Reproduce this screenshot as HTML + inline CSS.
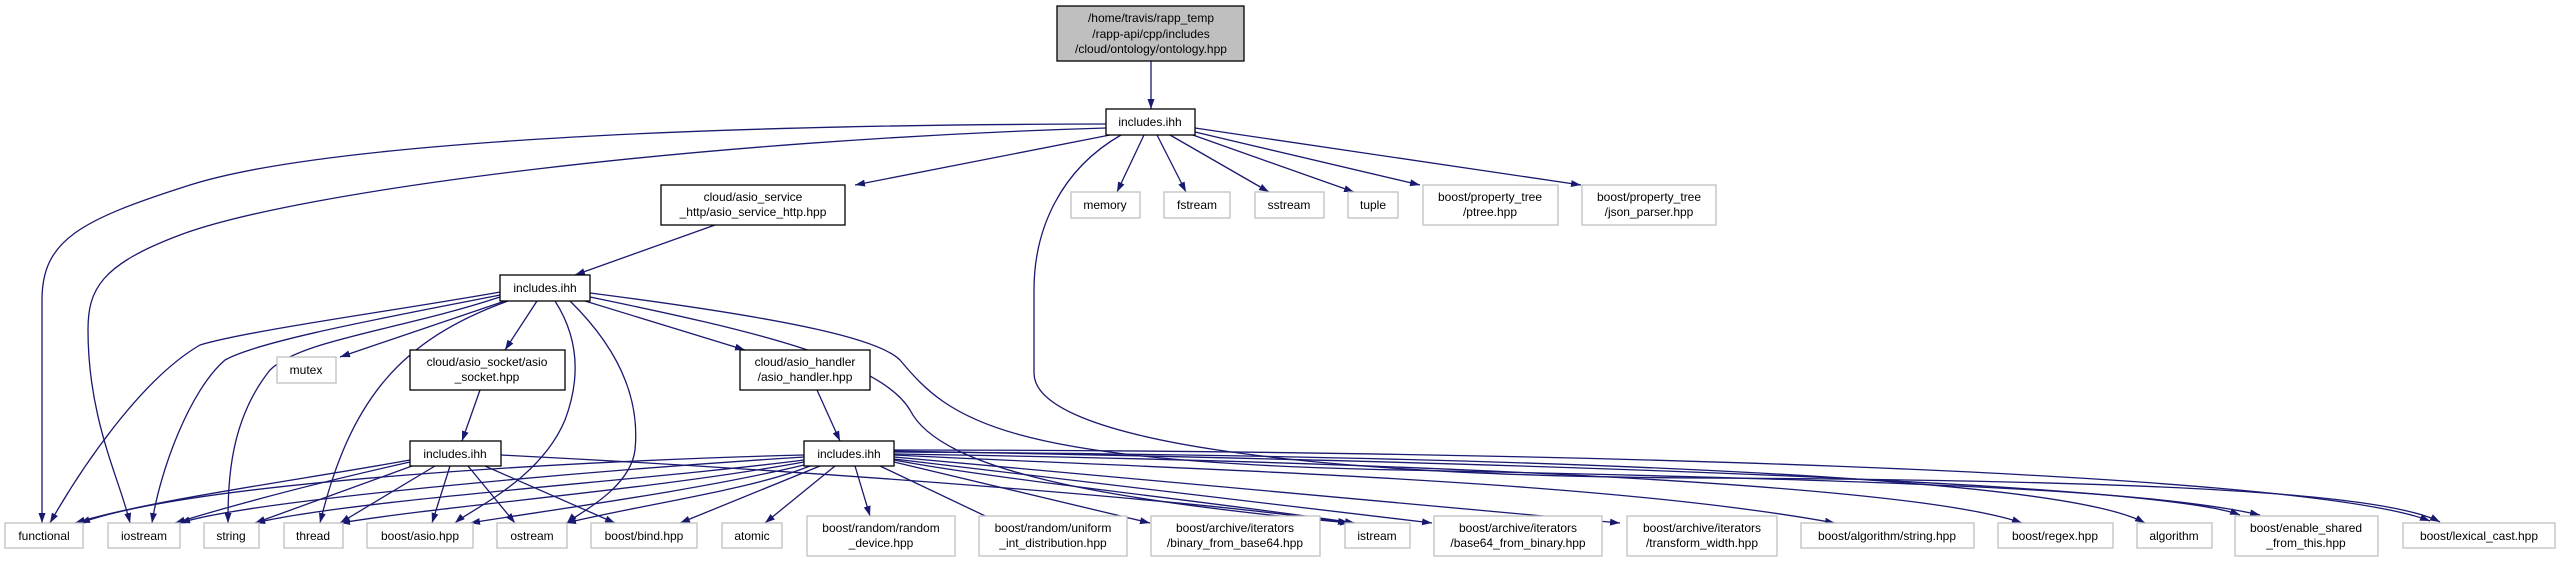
<!DOCTYPE html>
<html><head><meta charset="utf-8"><style>
html,body{margin:0;padding:0;background:#fff;}
svg{display:block;}
text{font-family:"Liberation Sans",sans-serif;font-size:12px;fill:#000;text-anchor:middle;}
.e{fill:none;stroke:#191970;stroke-width:1.3;marker-end:url(#a);}
.p{fill:#fff;stroke:#000;stroke-width:1.3;}
.x{fill:#fff;stroke:#bfbfbf;stroke-width:1.3;}
</style></head><body>
<svg width="2560" height="563" viewBox="0 0 2560 563" xmlns="http://www.w3.org/2000/svg">
<defs><marker id="a" markerUnits="userSpaceOnUse" markerWidth="11" markerHeight="8" refX="10" refY="3.5" orient="auto"><path d="M0,0 L10,3.5 L0,7 z" fill="#191970"/></marker></defs>

<!-- edges -->
<path class="e" d="M1151,61 L1151,109"/>
<path class="e" d="M1106,124 C600,125 300,150 190,185 C80,220 42,240 42,300 L42,523"/>
<path class="e" d="M1106,128 C700,140 300,190 180,235 C100,265 88,290 88,330 C88,420 120,480 130,523"/>
<path class="e" d="M1110,135 L855,185"/>
<path class="e" d="M1121,135 C1060,170 1034,230 1034,290 L1034,373 C1034,440 1300,476 1700,478 C2100,480 2380,490 2440,522"/>
<path class="e" d="M1144,135 L1117,192"/>
<path class="e" d="M1157,135 L1186,192"/>
<path class="e" d="M1170,135 L1269,192"/>
<path class="e" d="M1190,134 L1354,192"/>
<path class="e" d="M1195,132 L1420,185"/>
<path class="e" d="M1195,128 L1581,185"/>
<path class="e" d="M715,225 L575,275"/>

<path class="e" d="M500,292 C400,310 250,330 200,345 C140,380 80,470 50,523"/>
<path class="e" d="M500,295 C400,315 260,340 225,360 C190,390 160,470 152,523"/>
<path class="e" d="M500,297 C400,330 300,340 270,370 C230,420 228,480 228,523"/>
<path class="e" d="M505,301 L340,357"/>
<path class="e" d="M508,301 C400,340 350,400 320,523"/>
<path class="e" d="M537,301 L505,350"/>
<path class="e" d="M555,301 C580,340 580,380 565,420 C540,480 470,510 455,523"/>
<path class="e" d="M570,301 C620,350 640,400 635,450 C630,490 575,515 567,523"/>
<path class="e" d="M585,301 L745,350"/>
<path class="e" d="M590,293 C800,320 880,340 900,360 C950,420 1000,462 1400,470 C1900,480 2150,490 2260,515"/>
<path class="e" d="M590,297 C750,330 880,360 910,410 C940,470 1100,500 1350,523"/>
<path class="e" d="M480,390 L462,441"/>
<path class="e" d="M817,390 L840,441"/>

<path class="e" d="M410,460 C300,480 150,500 75,523"/>
<path class="e" d="M410,462 C330,480 250,500 175,523"/>
<path class="e" d="M412,466 L255,523"/>
<path class="e" d="M435,466 L340,523"/>
<path class="e" d="M450,466 L432,523"/>
<path class="e" d="M468,466 L515,523"/>
<path class="e" d="M485,466 L615,523"/>
<path class="e" d="M501,455 C800,470 1200,500 1348,523"/>

<path class="e" d="M804,455 C600,460 200,480 80,523"/>
<path class="e" d="M804,457 C600,470 250,500 180,523"/>
<path class="e" d="M804,460 C650,480 350,500 255,523"/>
<path class="e" d="M804,462 C650,490 450,505 340,523"/>
<path class="e" d="M804,465 C700,490 550,510 470,523"/>
<path class="e" d="M810,466 C750,490 640,505 566,523"/>
<path class="e" d="M820,466 L680,523"/>
<path class="e" d="M835,466 L765,523"/>
<path class="e" d="M855,466 L870,516"/>
<path class="e" d="M880,466 L1000,523"/>
<path class="e" d="M894,462 L1150,523"/>
<path class="e" d="M894,460 C1000,480 1200,500 1355,523"/>
<path class="e" d="M894,459 L1432,523"/>
<path class="e" d="M894,457 L1620,523"/>
<path class="e" d="M894,455 C1200,470 1600,480 1835,523"/>
<path class="e" d="M894,454 C1300,460 1900,480 2022,523"/>
<path class="e" d="M894,452 C1400,455 2050,470 2145,523"/>
<path class="e" d="M894,451 C1400,460 2150,480 2240,515"/>
<path class="e" d="M894,450 C1500,450 2300,470 2430,521"/>

<!-- nodes -->
<rect x="1057" y="6" width="187" height="55" fill="#bfbfbf" stroke="#000" stroke-width="1.3"/>
<text x="1151" y="22">/home/travis/rapp_temp</text>
<text x="1151" y="38">/rapp-api/cpp/includes</text>
<text x="1151" y="53">/cloud/ontology/ontology.hpp</text>

<rect class="p" x="1106" y="109" width="89" height="26"/><text x="1150" y="126">includes.ihh</text>
<rect class="p" x="661" y="185" width="184" height="40"/><text x="753" y="201">cloud/asio_service</text><text x="753" y="216">_http/asio_service_http.hpp</text>
<rect class="x" x="1071" y="192" width="69" height="26"/><text x="1105" y="209">memory</text>
<rect class="x" x="1164" y="192" width="66" height="26"/><text x="1197" y="209">fstream</text>
<rect class="x" x="1255" y="192" width="69" height="26"/><text x="1289" y="209">sstream</text>
<rect class="x" x="1348" y="192" width="50" height="26"/><text x="1373" y="209">tuple</text>
<rect class="x" x="1423" y="185" width="135" height="40"/><text x="1490" y="201">boost/property_tree</text><text x="1490" y="216">/ptree.hpp</text>
<rect class="x" x="1582" y="185" width="134" height="40"/><text x="1649" y="201">boost/property_tree</text><text x="1649" y="216">/json_parser.hpp</text>

<rect class="p" x="500" y="275" width="90" height="26"/><text x="545" y="292">includes.ihh</text>
<rect class="x" x="277" y="357" width="59" height="26"/><text x="306" y="374">mutex</text>
<rect class="p" x="410" y="350" width="155" height="40"/><text x="487" y="366">cloud/asio_socket/asio</text><text x="487" y="381">_socket.hpp</text>
<rect class="p" x="740" y="350" width="130" height="40"/><text x="805" y="366">cloud/asio_handler</text><text x="805" y="381">/asio_handler.hpp</text>
<rect class="p" x="410" y="441" width="91" height="25"/><text x="455" y="458">includes.ihh</text>
<rect class="p" x="804" y="441" width="90" height="25"/><text x="849" y="458">includes.ihh</text>

<rect class="x" x="5" y="523" width="78" height="25"/><text x="44" y="540">functional</text>
<rect class="x" x="108" y="523" width="72" height="25"/><text x="144" y="540">iostream</text>
<rect class="x" x="204" y="523" width="55" height="25"/><text x="231" y="540">string</text>
<rect class="x" x="284" y="523" width="59" height="25"/><text x="313" y="540">thread</text>
<rect class="x" x="367" y="523" width="106" height="25"/><text x="420" y="540">boost/asio.hpp</text>
<rect class="x" x="497" y="523" width="70" height="25"/><text x="532" y="540">ostream</text>
<rect class="x" x="591" y="523" width="106" height="25"/><text x="644" y="540">boost/bind.hpp</text>
<rect class="x" x="722" y="523" width="60" height="25"/><text x="752" y="540">atomic</text>
<rect class="x" x="807" y="516" width="148" height="40"/><text x="881" y="532">boost/random/random</text><text x="881" y="547">_device.hpp</text>
<rect class="x" x="979" y="516" width="148" height="40"/><text x="1053" y="532">boost/random/uniform</text><text x="1053" y="547">_int_distribution.hpp</text>
<rect class="x" x="1151" y="516" width="169" height="40"/><text x="1235" y="532">boost/archive/iterators</text><text x="1235" y="547">/binary_from_base64.hpp</text>
<rect class="x" x="1345" y="523" width="65" height="25"/><text x="1377" y="540">istream</text>
<rect class="x" x="1434" y="516" width="168" height="40"/><text x="1518" y="532">boost/archive/iterators</text><text x="1518" y="547">/base64_from_binary.hpp</text>
<rect class="x" x="1627" y="516" width="150" height="40"/><text x="1702" y="532">boost/archive/iterators</text><text x="1702" y="547">/transform_width.hpp</text>
<rect class="x" x="1801" y="523" width="173" height="25"/><text x="1887" y="540">boost/algorithm/string.hpp</text>
<rect class="x" x="1998" y="523" width="115" height="25"/><text x="2055" y="540">boost/regex.hpp</text>
<rect class="x" x="2137" y="523" width="75" height="25"/><text x="2174" y="540">algorithm</text>
<rect class="x" x="2235" y="516" width="143" height="40"/><text x="2306" y="532">boost/enable_shared</text><text x="2306" y="547">_from_this.hpp</text>
<rect class="x" x="2403" y="523" width="152" height="25"/><text x="2479" y="540">boost/lexical_cast.hpp</text>
</svg>
</body></html>
